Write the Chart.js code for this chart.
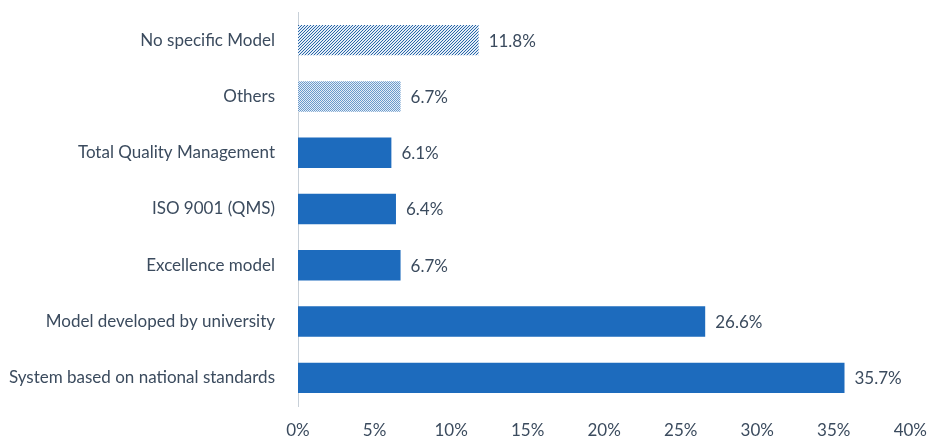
<!DOCTYPE html>
<html>
<head>
<meta charset="utf-8">
<script src="https://cdn.jsdelivr.net/npm/chart.js@4/dist/chart.umd.min.js"></script>
<style>
  html, body { margin: 0; padding: 0; background: #ffffff; }
  #wrap { width: 933px; height: 440px; }
</style>
</head>
<body>
<div id="wrap"><canvas id="bar-chart"></canvas></div>
<script>
var categories = [
    "No specific Model",
    "Others",
    "Total Quality Management",
    "ISO 9001 (QMS)",
    "Excellence model",
    "Model developed by university",
    "System based on national standards"
];
var values = [11.8, 6.7, 6.1, 6.4, 6.7, 26.6, 35.7];
var tickValues = [0, 5, 10, 15, 20, 25, 30, 35, 40];

// hatch patterns for the first two bars
function makeDiagonal() {
    var c = document.createElement("canvas");
    c.width = 3; c.height = 3;
    var g = c.getContext("2d");
    g.fillStyle = "#e4edf7";
    g.fillRect(0, 0, 3, 3);
    g.fillStyle = "#2766a8";
    g.fillRect(2, 0, 1, 1);
    g.fillRect(1, 1, 1, 1);
    g.fillRect(0, 2, 1, 1);
    return g.createPattern(c, "repeat");
}
function makeDots() {
    var c = document.createElement("canvas");
    c.width = 2; c.height = 2;
    var g = c.getContext("2d");
    g.fillStyle = "#e6eef7";
    g.fillRect(0, 0, 2, 2);
    g.fillStyle = "#6a9acb";
    g.fillRect(0, 0, 1, 1);
    g.fillRect(1, 1, 1, 1);
    return g.createPattern(c, "repeat");
}

var valueLabels = {
    id: "valueLabels",
    afterDatasetsDraw: function(chart) {
        var ctx = chart.ctx;
        var meta = chart.getDatasetMeta(0);
        ctx.save();
        ctx.font = "17px Lato";
        ctx.fillStyle = "#3b4b5e";
        ctx.textAlign = "left";
        ctx.textBaseline = "middle";
        meta.data.forEach(function(bar, i) {
            ctx.fillText(values[i].toFixed(1) + "%", bar.x + 10, bar.y + 1);
        });
        ctx.restore();
    }
};

var blue = "#1d6bbd";
var colors = values.map(function(v, i) {
    if (i === 0) return makeDiagonal();
    if (i === 1) return makeDots();
    return blue;
});

new Chart(document.getElementById("bar-chart"), {
    type: 'bar',
    data: {
        labels: categories,
        datasets: [
            {
                data: values,
                backgroundColor: colors,
                borderWidth: 0,
                barPercentage: 0.54,
                categoryPercentage: 1.0
            }
        ]
    },
    plugins: [valueLabels],
    options: {
        indexAxis: 'y',
        responsive: true,
        maintainAspectRatio: false,
        animation: false,
        layout: { padding: { top: 12, right: -6, bottom: 0, left: 0 } },
        plugins: {
            legend: { display: false },
            tooltip: { enabled: false }
        },
        scales: {
            x: {
                min: 0,
                max: 40,
                afterBuildTicks: function(axis) {
                    axis.ticks = tickValues.map(function(v) { return { value: v }; });
                },
                afterFit: function(axis) { axis.height = 34; },
                grid: { display: false },
                border: { display: false },
                ticks: {
                    color: "#3b4b5e",
                    font: { family: "Lato", size: 17 },
                    padding: 6,
                    maxRotation: 0,
                    callback: function(v) { return v + "%"; }
                }
            },
            y: {
                afterFit: function(axis) {
                    axis.width = 298;
                    axis.paddingTop = 0;
                    axis.paddingBottom = 0;
                },
                grid: { display: false },
                border: { display: true, color: "#c8d0d8", width: 1 },
                ticks: {
                    color: "#3b4b5e",
                    font: { family: "Lato", size: 17 },
                    padding: 15
                }
            }
        }
    }
});
</script>
</body>
</html>
